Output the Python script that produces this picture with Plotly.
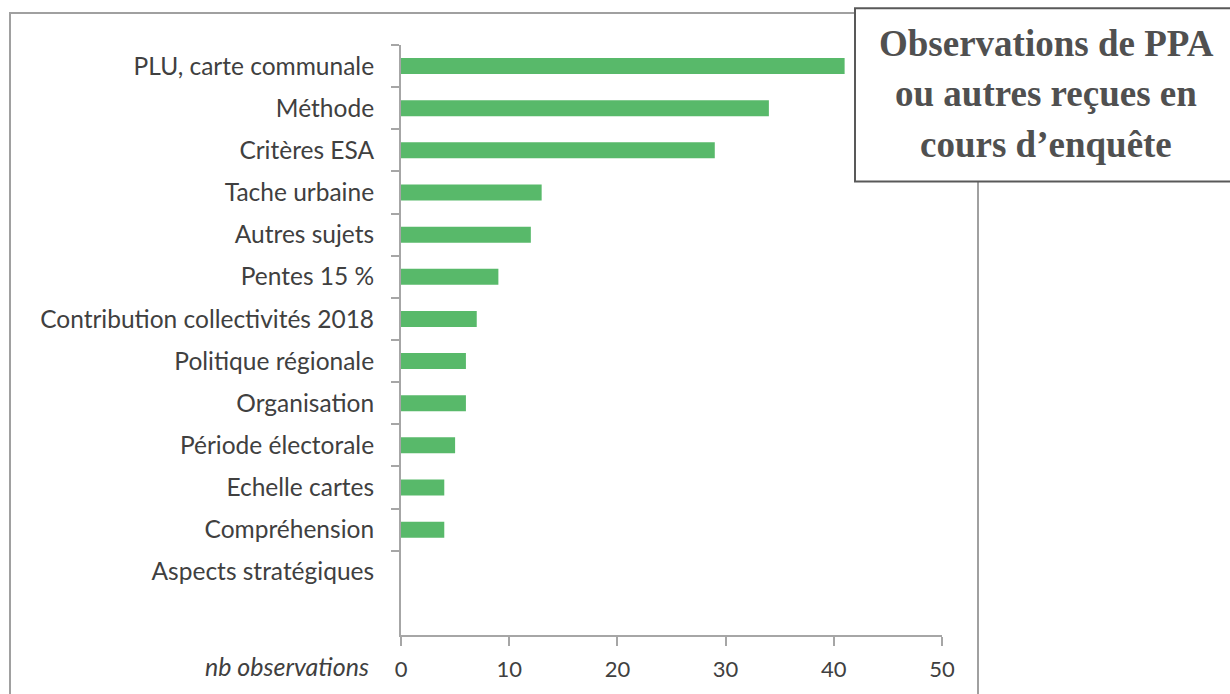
import plotly.graph_objects as go

# Observation topics, listed top to bottom
categories = [
    "PLU, carte communale",
    "Méthode",
    "Critères ESA",
    "Tache urbaine",
    "Autres sujets",
    "Pentes 15 %",
    "Contribution collectivités 2018",
    "Politique régionale",
    "Organisation",
    "Période électorale",
    "Echelle cartes",
    "Compréhension",
    "Aspects stratégiques",
]
counts = [41, 34, 29, 13, 12, 9, 7, 6, 6, 5, 4, 4, 0]
x_ticks = [0, 10, 20, 30, 40, 50]
title_lines = ["Observations de PPA", "ou autres reçues en", "cours d’enquête"]
x_label = "nb observations"

W, H = 1230, 694
L, R, T, B = 401, 942, 45, 637   # plot area in pixels


def px(x):
    return (x - L) / (R - L)


def py(y):
    return (B - y) / (B - T)


AXIS = "#A6A6A6"
TEXT = "#404040"
FONT = "Lato"

fig = go.Figure(
    go.Bar(
        x=counts,
        y=categories,
        orientation="h",
        marker=dict(color="#58B96A", line=dict(width=0)),
        width=0.38,
    )
)

fig.update_layout(
    width=W,
    height=H,
    margin=dict(l=L, r=W - R, t=T, b=H - B, pad=0),
    paper_bgcolor="white",
    plot_bgcolor="white",
    showlegend=False,
    font=dict(family=FONT, color=TEXT, size=20),
    bargap=0.62,
)

fig.update_xaxes(
    range=[0, 50],
    tickvals=x_ticks,
    showgrid=False,
    zeroline=False,
    showline=True,
    linecolor=AXIS,
    linewidth=2,
    ticks="outside",
    ticklen=9,
    tickwidth=2,
    tickcolor=AXIS,
    tickfont=dict(family=FONT, size=22, color=TEXT),
    ticklabelstandoff=5,
    fixedrange=True,
)

fig.update_yaxes(
    type="category",
    categoryorder="array",
    categoryarray=categories,
    range=[len(categories) + 0.5, -0.5],
    showgrid=False,
    zeroline=False,
    showline=True,
    linecolor=AXIS,
    linewidth=2,
    ticks="outside",
    tickson="boundaries",
    ticklen=8,
    tickwidth=2,
    tickcolor=AXIS,
    tickfont=dict(family=FONT, size=24.5, color=TEXT),
    ticklabelstandoff=20,
    fixedrange=True,
)

shapes = [
    # chart frame
    dict(type="rect", xref="paper", yref="paper",
         x0=px(10), x1=px(978), y0=py(700), y1=py(13),
         line=dict(color="#A0A0A0", width=2), fillcolor="rgba(0,0,0,0)", layer="below"),
    # title box
    dict(type="rect", xref="paper", yref="paper",
         x0=px(855), x1=px(1240), y0=py(182), y1=py(8),
         line=dict(color="#595959", width=2), fillcolor="white", layer="above"),
]
fig.update_layout(shapes=shapes)

annotations = []
for i, line in enumerate(title_lines):
    annotations.append(dict(
        x=px(1046), y=py(43 + i * 51), xref="paper", yref="paper",
        text=f"<b>{line}</b>", showarrow=False, xanchor="center", yanchor="middle",
        font=dict(family="Liberation Serif", size=37, color="#505050"),
    ))
annotations.append(dict(
    x=px(371), y=py(668), xref="paper", yref="paper",
    text=f"<i>{x_label}</i>", showarrow=False, xanchor="right", yanchor="middle",
    font=dict(family=FONT, size=25, color=TEXT),
))
fig.update_layout(annotations=annotations)

fig.write_html("out.html", config={"displayModeBar": False})
